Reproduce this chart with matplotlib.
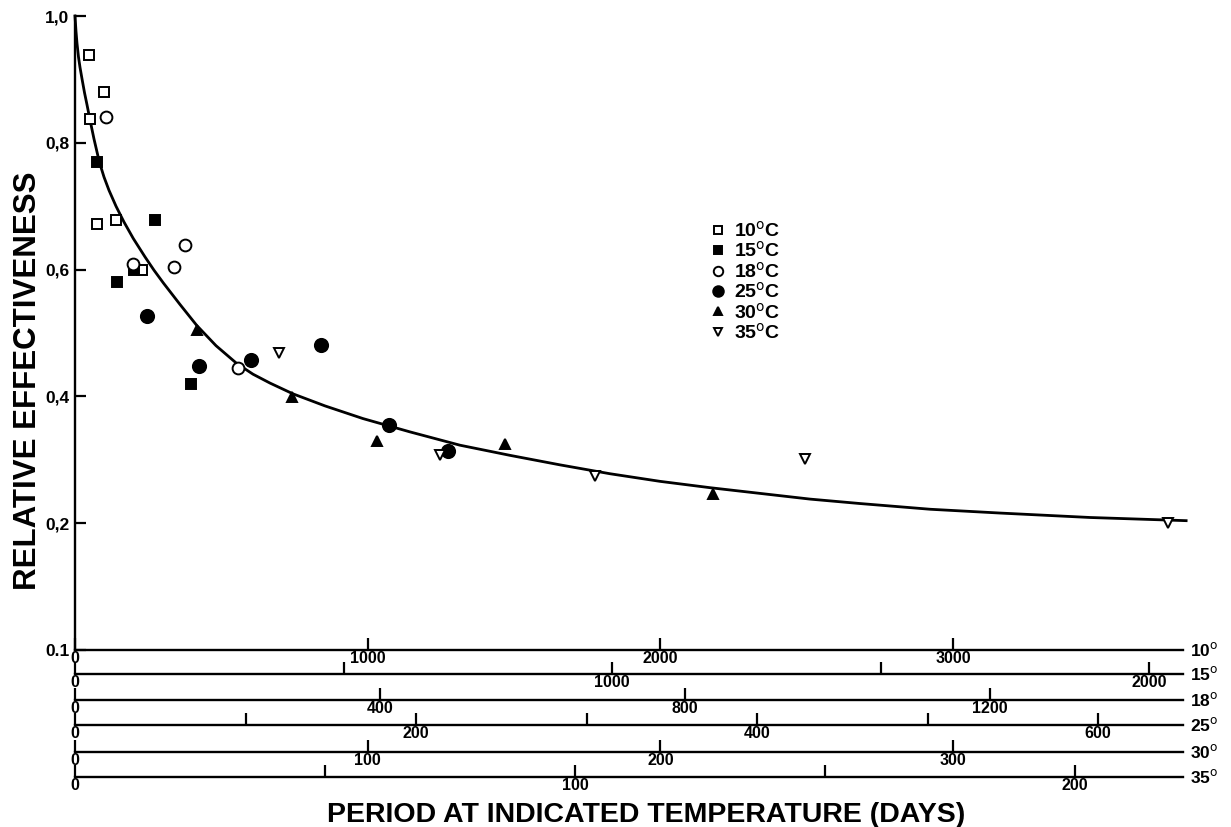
import numpy as np
import matplotlib
matplotlib.use("Agg")
import matplotlib.pyplot as plt
from matplotlib.ticker import FixedLocator, FixedFormatter

plt.rcParams["font.family"] = ["Liberation Sans", "DejaVu Sans"]

# ---- data: days at the indicated temperature / relative effectiveness ----
d10 = [48, 51, 99, 75, 140, 229]
e10 = [0.938, 0.837, 0.880, 0.672, 0.678, 0.599]
d15 = [41, 78, 110, 149, 216]
e15 = [0.770, 0.580, 0.599, 0.678, 0.419]
d18 = [41, 76, 130, 144, 214]
e18 = [0.841, 0.609, 0.604, 0.639, 0.445]
d25 = [42, 73, 103, 144, 184, 219]
e25 = [0.527, 0.448, 0.457, 0.481, 0.355, 0.314]
d30 = [41.6, 74, 103, 147, 218]
e30 = [0.505, 0.399, 0.329, 0.325, 0.246]
d35 = [40.8, 73, 104, 146, 218.6]
e35 = [0.468, 0.307, 0.274, 0.301, 0.200]

# fitted curve in 10 C days
curve_x = [0, 3.4, 6.8, 12.0, 17.1, 23.9, 32.5, 41.0, 51.3, 64.9, 83.0, 99.1,
           116.2, 140.1, 167.4, 199.2, 239.2, 269.9, 301.7, 358.7, 415.8,
           481.7, 552.4, 608.1, 666.2, 744.8, 854.1, 983.9, 1144.5, 1315.3,
           1486.2, 1657.0, 1827.8, 1998.6, 2169.5, 2340.3, 2511.1, 2681.9,
           2921.1, 3160.2, 3467.7, 3795.7]
curve_y = [1.0, 0.976, 0.957, 0.935, 0.919, 0.901, 0.879, 0.860, 0.836, 0.806,
           0.770, 0.746, 0.725, 0.700, 0.675, 0.649, 0.620, 0.599, 0.579,
           0.545, 0.512, 0.480, 0.452, 0.435, 0.421, 0.404, 0.385, 0.365,
           0.344, 0.323, 0.307, 0.292, 0.278, 0.266, 0.256, 0.247, 0.238,
           0.231, 0.222, 0.216, 0.209, 0.204]

# temperature scales: 10 C-equivalent days per day at that temperature
TEMPS = ["10", "15", "18", "25", "30", "35"]
FACTOR = [1.0, 1.835, 2.605, 5.825, 10.0, 17.08]
MAJOR = [[0, 1000, 2000, 3000], [0, 1000, 2000], [0, 400, 800, 1200],
         [0, 200, 400, 600], [0, 100, 200, 300], [0, 100, 200]]
MINOR = [[], [500, 1500], [], [100, 300, 500], [], [50, 150]]

# y axis: 0.1..0.2 squeezed to one step, then linear to 1.0
Y_VALS = [0.1, 0.2, 1.0]
Y_POS = [0.0, 1.0, 5.0]
Y_TICKS = [0.1, 0.2, 0.4, 0.6, 0.8, 1.0]
Y_LABELS = ["0.1", "0,2", "0,4", "0,6", "0,8", "1,0"]

fig = plt.figure(figsize=(12.31, 8.27), dpi=100)
ax = fig.add_axes([75 / 1231, 1 - 650 / 827, 1108 / 1231, 634 / 827])

ax.set_yscale("function", functions=(lambda y: np.interp(y, Y_VALS, Y_POS),
                                     lambda p: np.interp(p, Y_POS, Y_VALS)))
ax.set_ylim(0.1, 1.0)
ax.set_xlim(0, 3785)

series = [
    (d10, e10, "s", "white", 7.5, "10$^{\\rm o}$C"),
    (d15, e15, "s", "black", 7.5, "15$^{\\rm o}$C"),
    (d18, e18, "o", "white", 8.5, "18$^{\\rm o}$C"),
    (d25, e25, "o", "black", 9.5, "25$^{\\rm o}$C"),
    (d30, e30, "^", "black", 7.5, "30$^{\\rm o}$C"),
    (d35, e35, "v", "white", 7.5, "35$^{\\rm o}$C"),
]
for (d, e, m, fc, ms, lab), f in zip(series, FACTOR):
    ax.plot(np.array(d) * f, e, ls="none", marker=m, ms=ms, mfc=fc, mec="black",
            mew=1.4, label=lab, zorder=3)

ax.plot(curve_x, curve_y, color="black", lw=2.0, zorder=2, clip_on=False,
        solid_joinstyle="round")

for s in ["top", "right"]:
    ax.spines[s].set_visible(False)
for s in ["left", "bottom"]:
    ax.spines[s].set_linewidth(1.7)

ax.set_yticks(Y_TICKS)
ax.set_yticklabels(Y_LABELS, fontsize=12.5, fontweight="bold")
ax.yaxis.set_minor_locator(FixedLocator([]))
ax.tick_params(axis="y", direction="in", length=8, width=1.6, pad=4)

ax.set_xticks(MAJOR[0])
ax.set_xticklabels([str(v) for v in MAJOR[0]], fontsize=11.5, fontweight="bold")
ax.tick_params(axis="x", direction="in", length=9, width=1.6, pad=1)

ax_h = 634.0
offsets = [0, 24, 50, 75, 102, 127]
for i in range(1, 6):
    f = FACTOR[i]
    sec = ax.secondary_xaxis(-offsets[i] / ax_h,
                             functions=(lambda x, f=f: x / f, lambda x, f=f: x * f))
    sec.xaxis.set_major_locator(FixedLocator(MAJOR[i]))
    sec.xaxis.set_major_formatter(FixedFormatter([str(v) for v in MAJOR[i]]))
    sec.xaxis.set_minor_locator(FixedLocator(MINOR[i]))
    sec.spines["bottom"].set_linewidth(1.7)
    sec.tick_params(axis="x", which="both", direction="in", length=9, width=1.6,
                    pad=1, labelsize=11.5)
    for t in sec.get_xticklabels():
        t.set_fontweight("bold")

for t, off in zip(TEMPS, offsets):
    ax.text(1.006, -off / ax_h, t + "$^{\\rm o}$", transform=ax.transAxes,
            ha="left", va="center", fontsize=12.5, fontweight="bold")

fig.text(28 / 1231, 1 - 381 / 827, "RELATIVE EFFECTIVENESS", rotation=90,
         ha="center", va="center", fontsize=22.5, fontweight="bold")
fig.text(646 / 1231, 1 - 815 / 827, "PERIOD AT INDICATED TEMPERATURE (DAYS)",
         ha="center", va="center", fontsize=20.5, fontweight="bold")

ax.legend(loc="upper left", bbox_to_anchor=((702 - 75) / 1108, (650 - 211) / 634),
          frameon=False, prop={"weight": "bold", "size": 14},
          handlelength=0.6, handletextpad=0.55, labelspacing=0.02, markerscale=0.8,
          borderpad=0)

fig.savefig("out.png", dpi=100)
